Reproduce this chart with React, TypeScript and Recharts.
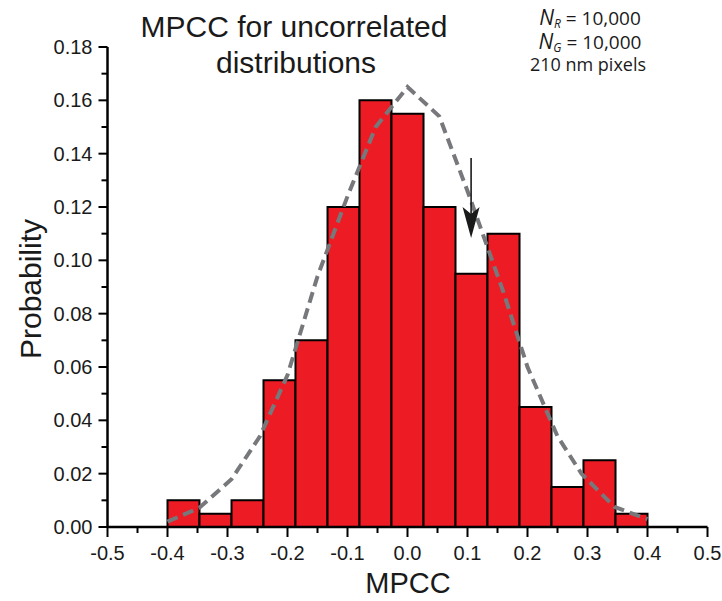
import {
  ComposedChart,
  Line,
  XAxis,
  YAxis,
  ReferenceArea,
  ReferenceLine,
  ReferenceDot,
} from "recharts";

// histogram: 15 bins between -0.4 and 0.4
const BIN_EDGES = [
  -0.4, -0.3467, -0.2933, -0.24, -0.1867, -0.1333, -0.08, -0.0267, 0.0267, 0.08,
  0.1333, 0.1867, 0.24, 0.2933, 0.3467, 0.4,
];
const PROBABILITY = [
  0.01, 0.005, 0.01, 0.055, 0.07, 0.12, 0.16, 0.155, 0.12, 0.095, 0.11, 0.045,
  0.015, 0.025, 0.005,
];

// dashed fit curve
const FIT_X = [
  -0.4, -0.347, -0.293, -0.246, -0.2, -0.15, -0.1, -0.053, 0, 0.053, 0.1, 0.16,
  0.2, 0.25, 0.29, 0.345, 0.4,
];
const FIT_Y = [
  0.002, 0.0072, 0.018, 0.034, 0.057, 0.094, 0.124, 0.15, 0.165, 0.154, 0.126,
  0.088, 0.06, 0.034, 0.02, 0.0075, 0.003,
];

const X_TICKS = [
  -0.5, -0.45, -0.4, -0.35, -0.3, -0.25, -0.2, -0.15, -0.1, -0.05, 0, 0.05, 0.1,
  0.15, 0.2, 0.25, 0.3, 0.35, 0.4, 0.45, 0.5,
];
const Y_TICKS = [
  0, 0.01, 0.02, 0.03, 0.04, 0.05, 0.06, 0.07, 0.08, 0.09, 0.1, 0.11, 0.12, 0.13,
  0.14, 0.15, 0.16, 0.17, 0.18,
];

// arrow marking the dip
const ARROW_X = 0.106;
const ARROW_TOP = 0.1384;
const ARROW_TIP = 0.1084;

const fitData = FIT_X.map((x, i) => ({ x, y: FIT_Y[i] }));

const FONT = "'Liberation Sans', Arial, Helvetica, sans-serif";

function XTick(props: any) {
  const { x, y, payload } = props;
  const v = payload.value as number;
  const major = Math.abs(v * 10 - Math.round(v * 10)) < 1e-6;
  return (
    <g>
      <line x1={x} x2={x} y1={y} y2={y + (major ? 10 : 6)} stroke="#000" strokeWidth={2} />
      {major && (
        <text x={x} y={y + 33} textAnchor="middle" fontSize={20} fill="#1a1a1a" fontFamily={FONT}>
          {v.toFixed(1)}
        </text>
      )}
    </g>
  );
}

function YTick(props: any) {
  const { x, y, payload } = props;
  const v = payload.value as number;
  const major = Math.abs(v * 50 - Math.round(v * 50)) < 1e-6;
  return (
    <g>
      <line x1={x - (major ? 9 : 6)} x2={x} y1={y} y2={y} stroke="#000" strokeWidth={2} />
      {major && (
        <text x={x - 15} y={y + 7} textAnchor="end" fontSize={20} fill="#1a1a1a" fontFamily={FONT}>
          {v.toFixed(2)}
        </text>
      )}
    </g>
  );
}

function ArrowHead(props: any) {
  const { cx, cy } = props;
  return (
    <path
      d={`M${cx},${cy} L${cx - 8.5},${cy - 31} L${cx},${cy - 24} L${cx + 8.5},${cy - 31} Z`}
      fill="#1a1a1a"
    />
  );
}

export default function App() {
  return (
    <div style={{ position: "absolute", left: 0, top: 0, width: 722, height: 601, background: "#fff" }}>
      <ComposedChart
        width={722}
        height={601}
        data={fitData}
        margin={{ top: 47, right: 14.5, bottom: 0, left: 0 }}
      >
        <XAxis
          dataKey="x"
          type="number"
          domain={[-0.5, 0.5]}
          ticks={X_TICKS}
          interval={0}
          height={74}
          tickSize={0}
          tickMargin={0}
          tickLine={false}
          tick={<XTick />}
          axisLine={{ stroke: "#000", strokeWidth: 2.5 }}
          allowDataOverflow
        />
        <YAxis
          type="number"
          domain={[0, 0.18]}
          ticks={Y_TICKS}
          interval={0}
          width={107.5}
          tickSize={0}
          tickMargin={0}
          tickLine={false}
          tick={<YTick />}
          axisLine={{ stroke: "#000", strokeWidth: 2.5 }}
          allowDataOverflow
        />
        {PROBABILITY.map((p, i) => (
          <ReferenceArea
            key={i}
            x1={BIN_EDGES[i]}
            x2={BIN_EDGES[i + 1]}
            y1={0}
            y2={p}
            fill="#ED1C24"
            fillOpacity={1}
            stroke="#000"
            strokeWidth={2}
            ifOverflow="visible"
          />
        ))}
        <Line
          dataKey="y"
          type="linear"
          stroke="#77787b"
          strokeWidth={4}
          strokeDasharray="11 6"
          dot={false}
          activeDot={false}
          isAnimationActive={false}
        />
        <ReferenceLine
          segment={[
            { x: ARROW_X, y: ARROW_TOP },
            { x: ARROW_X, y: ARROW_TIP + 0.008 },
          ]}
          stroke="#1a1a1a"
          strokeWidth={1.6}
        />
        <ReferenceDot x={ARROW_X} y={ARROW_TIP} r={0} shape={ArrowHead} />
      </ComposedChart>
      <svg
        width={722}
        height={601}
        style={{ position: "absolute", left: 0, top: 0, pointerEvents: "none" }}
      >
        <g fontFamily={FONT} fill="#1a1a1a">
          <text x={294} y={37} textAnchor="middle" fontSize={30}>
            MPCC for uncorrelated
          </text>
          <text x={296} y={73} textAnchor="middle" fontSize={30}>
            distributions
          </text>
          <text x={408} y={593} textAnchor="middle" fontSize={29}>
            MPCC
          </text>
          <text x={41} y={289} textAnchor="middle" fontSize={30} transform="rotate(-90 41 289)">
            Probability
          </text>
        </g>
        <g fontFamily="'Open Sans', 'Noto Sans', sans-serif" fill="#1a1a1a" fontSize={19}>
          <text x={590} y={25} textAnchor="middle">
            <tspan fontStyle="italic" fontSize={21}>N</tspan>
            <tspan fontStyle="italic" fontSize={12} dy={3}>R</tspan>
            <tspan dy={-3}> = 10,000</tspan>
          </text>
          <text x={590} y={49} textAnchor="middle">
            <tspan fontStyle="italic" fontSize={21}>N</tspan>
            <tspan fontStyle="italic" fontSize={12} dy={3}>G</tspan>
            <tspan dy={-3}> = 10,000</tspan>
          </text>
          <text x={588} y={71} textAnchor="middle" fontSize={18}>
            210 nm pixels
          </text>
        </g>
      </svg>
    </div>
  );
}
